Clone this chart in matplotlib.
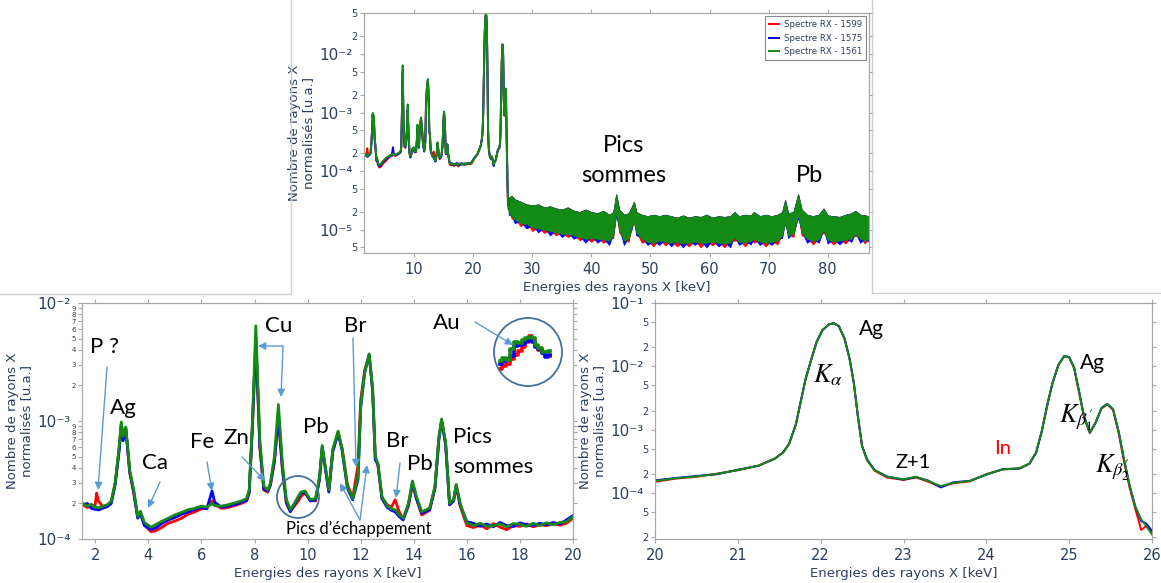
import numpy as np
import matplotlib
matplotlib.use("Agg")
import matplotlib.pyplot as plt
from matplotlib.ticker import FixedLocator, FuncFormatter
from matplotlib.patches import Ellipse, FancyArrowPatch
from matplotlib.lines import Line2D

plt.rcParams["mathtext.fontset"] = "stix"
plt.rcParams["font.family"] = "DejaVu Sans"

W, H = 1161, 583
UNIT = 1e-4  # spectrum values below are in units of 1e-4

# ---- spectrum 1.5 -> 26 keV (three samples) ----
energy = [1.5, 1.7, 1.85, 2.0, 2.05, 2.12, 2.3, 2.45, 2.6, 2.75,
          2.9, 2.98, 3.05, 3.15, 3.3, 3.45, 3.6, 3.7, 3.85, 4.1,
          4.3, 4.5, 4.75, 5.0, 5.25, 5.5, 5.75, 6.0, 6.2, 6.4,
          6.5, 6.75, 7.0, 7.25, 7.5, 7.7, 7.8, 7.92, 8.05, 8.2,
          8.35, 8.5, 8.6, 8.75, 8.9, 9.05, 9.2, 9.35, 9.5, 9.65,
          9.75, 9.9, 10.0, 10.1, 10.3, 10.45, 10.55, 10.65, 10.8, 10.95,
          11.15, 11.3, 11.5, 11.7, 11.9, 12.0, 12.15, 12.32, 12.45, 12.55,
          12.65, 12.8, 13.0, 13.15, 13.3, 13.45, 13.6, 13.8, 13.95, 14.1,
          14.3, 14.6, 14.8, 14.95, 15.05, 15.2, 15.35, 15.5, 15.6, 15.75,
          16.0, 16.25, 16.5, 16.75, 17.0, 17.25, 17.5, 17.75, 18.0, 18.25,
          18.5, 18.75, 19.0, 19.25, 19.5, 19.75, 20.0,
          20.25, 20.5, 20.75, 21.0, 21.25, 21.45, 21.55, 21.62, 21.7, 21.76,
          21.82, 21.88, 21.95, 22.02, 22.1, 22.16, 22.22, 22.29, 22.35, 22.4,
          22.45, 22.5, 22.56, 22.65, 22.8, 23.0, 23.15, 23.3, 23.45, 23.6,
          23.8, 24.0, 24.2, 24.4, 24.52, 24.6, 24.67, 24.74, 24.8, 24.87,
          24.94, 25.0, 25.06, 25.12, 25.18, 25.25, 25.32, 25.39, 25.46, 25.53,
          25.6, 25.66, 25.73, 25.8, 25.87, 25.93, 26.0]

spec_1561 = [2.02, 1.9, 1.97, 1.83, 1.86, 1.84, 1.9, 1.95, 2.1, 3.0,
             6.1, 9.8, 7.4, 8.9, 3.8, 2.6, 1.55, 1.72, 1.38, 1.26,
             1.33, 1.41, 1.5, 1.6, 1.68, 1.77, 1.82, 1.9, 1.86, 2.0,
             1.92, 1.9, 1.95, 2.02, 2.1, 2.2, 2.6, 9.7, 64, 6.9,
             2.8, 2.6, 3.0, 5.0, 13.8, 4.4, 2.16, 1.77, 2.0, 2.3,
             2.5, 2.55, 2.35, 2.16, 2.2, 3.4, 6.2, 4.4, 2.6, 5.8,
             8.2, 5.8, 2.8, 2.2, 3.4, 13.4, 26, 37, 18.6, 5.0,
             4.4, 2.3, 1.9, 1.8, 1.77, 1.6, 1.5, 2.0, 3.1, 2.3,
             1.7, 1.83, 2.8, 7.4, 10.4, 6.6, 2.0, 2.16, 2.9, 2.0,
             1.37, 1.3, 1.36, 1.28, 1.3, 1.34, 1.27, 1.35, 1.33, 1.28,
             1.36, 1.3, 1.37, 1.32, 1.38, 1.4, 1.55,
             1.7, 1.82, 2.0, 2.3, 2.7, 3.5, 4.4, 6.0, 12, 28,
             65, 120, 240, 370, 460, 480, 430, 270, 130, 55,
             16, 5.5, 3.3, 2.3, 1.8, 1.64, 1.8, 1.54, 1.28, 1.45,
             1.54, 1.96, 2.36, 2.44, 2.9, 4.3, 9.5, 26, 55, 105,
             145, 140, 95, 40, 16, 9.0, 13, 22, 25.5, 21,
             9.0, 3.5, 1.3, 0.6, 0.38, 0.30, 0.22]

spec_1575 = [1.95, 2.0, 1.82, 1.78, 1.8, 1.76, 1.83, 1.88, 2.0, 2.9,
             5.6, 9.2, 6.8, 8.6, 3.7, 2.5, 1.5, 1.65, 1.3, 1.2,
             1.25, 1.35, 1.45, 1.52, 1.62, 1.7, 1.78, 1.85, 1.8, 2.55,
             2.05, 1.86, 1.9, 1.95, 2.05, 2.12, 2.5, 9.0, 51, 6.2,
             2.65, 2.55, 2.9, 4.6, 11.0, 4.0, 2.05, 1.7, 1.95, 2.25,
             2.45, 2.5, 2.3, 2.1, 2.15, 3.2, 6.0, 4.2, 2.5, 5.5,
             7.9, 5.6, 2.7, 2.15, 3.2, 13.0, 25.5, 36.5, 18.0, 4.7,
             4.3, 2.2, 1.85, 1.75, 1.7, 1.55, 1.45, 1.95, 3.0, 2.2,
             1.65, 1.78, 2.7, 7.1, 10.0, 6.3, 1.95, 2.1, 2.85, 1.95,
             1.4, 1.36, 1.28, 1.34, 1.27, 1.38, 1.3, 1.27, 1.37, 1.32,
             1.3, 1.36, 1.32, 1.38, 1.34, 1.45, 1.58,
             1.72, 1.85, 1.97, 2.32, 2.68, 3.5, 4.4, 6.0, 12, 28,
             64, 120, 240, 370, 460, 480, 430, 270, 130, 55,
             16, 5.5, 3.4, 2.3, 1.82, 1.62, 1.78, 1.56, 1.22, 1.47,
             1.55, 1.94, 2.38, 2.42, 2.9, 4.3, 9.5, 26, 55, 105,
             145, 140, 95, 40, 16, 9.0, 13, 22, 25.5, 21,
             9.0, 3.5, 1.3, 0.6, 0.36, 0.33, 0.25]

spec_1599 = [1.98, 1.85, 1.9, 1.95, 2.45, 2.1, 1.87, 1.92, 2.05, 2.95,
             5.8, 9.5, 7.0, 8.7, 3.6, 2.45, 1.52, 1.68, 1.32, 1.15,
             1.18, 1.25, 1.36, 1.42, 1.5, 1.62, 1.7, 1.8, 1.82, 2.1,
             1.95, 1.82, 1.85, 1.92, 2.0, 2.1, 2.45, 8.8, 47, 6.0,
             2.6, 2.5, 2.85, 4.5, 10.8, 3.9, 2.0, 1.72, 1.9, 2.1,
             2.3, 2.45, 2.3, 2.12, 2.1, 3.3, 5.9, 4.3, 2.55, 5.6,
             8.0, 5.9, 2.9, 2.25, 4.2, 15.0, 27, 36, 18.5, 4.9,
             4.2, 2.25, 1.95, 1.85, 2.15, 1.7, 1.48, 1.9, 2.9, 2.2,
             1.6, 1.75, 2.75, 7.2, 10.2, 6.4, 1.95, 2.12, 2.8, 1.9,
             1.3, 1.25, 1.32, 1.22, 1.35, 1.26, 1.2, 1.3, 1.28, 1.34,
             1.27, 1.32, 1.3, 1.35, 1.31, 1.36, 1.5,
             1.68, 1.8, 2.02, 2.28, 2.7, 3.5, 4.4, 6.0, 12, 28,
             65, 120, 240, 370, 460, 480, 430, 270, 130, 55,
             16, 5.5, 3.3, 2.25, 1.75, 1.6, 1.76, 1.5, 1.25, 1.42,
             1.52, 1.98, 2.34, 2.45, 2.9, 4.3, 9.5, 26, 55, 105,
             145, 138, 93, 38, 15.5, 8.8, 12.8, 21.5, 25, 20.5,
             8.5, 3.2, 1.2, 0.55, 0.26, 0.30, 0.23]

# ---- noisy high-energy region 26 -> 87 keV (envelopes, units of 1e-5) ----
band_E = [26.0, 26.5, 27, 28, 29, 30, 31, 32, 33, 34, 35, 36, 37, 38, 39, 40, 41, 42, 43, 43.7,
          44.2, 44.7, 45.5, 46.3, 46.8, 47.2, 47.6, 48.5, 49.5, 50.5, 51.5, 52.5, 53.5, 54.5, 55.5,
          56.5, 57.5, 58.5, 59.5, 60.5, 61.5, 62.5, 63.5, 64.2, 65, 66, 67, 67.5, 68.5, 69.5, 70.5,
          71.5, 72.3, 72.8, 73.3, 74.2, 75.0, 75.6, 76.5, 77.5, 78.5, 79.3, 80, 81, 82, 83, 84,
          84.7, 85.5, 86.3, 87]
band_hi = [3.5, 3.8, 3.3, 3.0, 2.7, 2.6, 2.7, 2.4, 2.5, 2.3, 2.2, 2.4, 2.1, 2.0, 2.2, 2.0, 1.9, 2.1, 1.8, 2.0,
           4.0, 2.2, 1.8, 1.9, 2.4, 3.0, 2.0, 1.8, 1.7, 1.8, 1.7, 1.8, 1.7, 1.6, 1.75, 1.6, 1.7, 1.65, 1.8, 1.6,
           1.7, 1.65, 1.7, 2.0, 1.7, 1.8, 1.75, 2.0, 1.7, 1.8, 1.7, 1.8, 2.0, 3.2, 1.9, 2.0, 4.0, 2.2, 1.8, 1.7,
           1.8, 2.3, 1.75, 1.7, 1.65, 1.8, 1.9, 2.1, 1.8, 1.75, 1.7]
band_lo_1561 = [2.0, 1.7, 1.5, 1.3, 1.25, 1.1, 1.05, 1.0, 0.95, 0.9, 0.85, 0.85, 0.8, 0.75, 0.7, 0.72, 0.7, 0.68, 0.65, 0.8,
                2.0, 1.0, 0.65, 0.7, 1.1, 1.4, 0.9, 0.7, 0.62, 0.6, 0.65, 0.62, 0.6, 0.62, 0.58, 0.6, 0.62, 0.6, 0.6, 0.62,
                0.6, 0.58, 0.6, 0.75, 0.62, 0.6, 0.65, 0.7, 0.62, 0.6, 0.62, 0.65, 0.8, 1.4, 0.8, 0.85, 1.8, 0.9, 0.7, 0.65,
                0.68, 1.0, 0.66, 0.64, 0.65, 0.68, 0.7, 0.85, 0.7, 0.66, 0.7]
band_lo_1575 = [1.8, 1.8, 1.3, 1.4, 1.05, 1.2, 0.9, 1.1, 0.8, 1.0, 0.75, 0.9, 0.7, 0.8, 0.6, 0.8, 0.6, 0.72, 0.55, 0.85,
                1.8, 1.1, 0.55, 0.75, 1.0, 1.5, 0.8, 0.75, 0.55, 0.65, 0.55, 0.7, 0.52, 0.68, 0.5, 0.66, 0.55, 0.65, 0.5, 0.68,
                0.52, 0.62, 0.5, 0.8, 0.55, 0.65, 0.56, 0.75, 0.55, 0.65, 0.55, 0.7, 0.72, 1.5, 0.72, 0.9, 1.6, 0.95, 0.6, 0.7,
                0.6, 1.05, 0.58, 0.7, 0.56, 0.72, 0.62, 0.9, 0.6, 0.7, 0.62]
band_lo_1599 = [2.1, 1.55, 1.6, 1.15, 1.35, 0.95, 1.1, 0.88, 1.0, 0.8, 0.9, 0.75, 0.85, 0.66, 0.75, 0.62, 0.75, 0.6, 0.7, 0.72,
                2.1, 0.9, 0.7, 0.62, 1.15, 1.3, 0.95, 0.6, 0.66, 0.52, 0.7, 0.54, 0.65, 0.52, 0.62, 0.52, 0.66, 0.5, 0.65, 0.54,
                0.65, 0.5, 0.65, 0.65, 0.66, 0.52, 0.7, 0.6, 0.66, 0.52, 0.66, 0.56, 0.85, 1.25, 0.85, 0.75, 1.9, 0.8, 0.75, 0.56,
                0.72, 0.9, 0.7, 0.56, 0.7, 0.58, 0.75, 0.78, 0.75, 0.58, 0.75]

# ---- magnified Au L region (inset circle, units of 1e-4) ----
au_E = [9.50, 9.56, 9.59, 9.65, 9.69, 9.74, 9.78, 9.82, 9.86, 9.89, 9.93, 9.97, 10.01, 10.04, 10.08]
au_1561 = [2.16, 2.22, 2.19, 2.38, 2.51, 2.48, 2.54, 2.57, 2.59, 2.57, 2.46, 2.40, 2.33, 2.32, 2.35]
au_1575 = [2.12, 2.16, 2.20, 2.25, 2.44, 2.46, 2.47, 2.52, 2.58, 2.50, 2.42, 2.38, 2.30, 2.24, 2.28]
au_1599 = [2.02, 2.08, 2.12, 2.20, 2.28, 2.35, 2.42, 2.50, 2.62, 2.52, 2.44, 2.36, 2.30, 2.27, 2.25]

series = [("Spectre RX - 1599", "#ff0000", spec_1599, band_lo_1599, au_1599),
          ("Spectre RX - 1575", "#0000ff", spec_1575, band_lo_1575, au_1575),
          ("Spectre RX - 1561", "#138a13", spec_1561, band_lo_1561, au_1561)]

TXT = "#2a3f5f"
SPINE = "#a8a8a8"
ARROW = "#5b9bd5"
RING = "#41719c"
SUP = str.maketrans("-0123456789", "⁻⁰¹²³⁴⁵⁶⁷⁸⁹")


def fpos(x, y):
    return x / W, 1 - y / H


def log_axis(ax, ylim, subs, minor_size):
    ax.set_yscale("log")
    ax.set_ylim(*ylim)
    e0, e1 = int(np.floor(np.log10(ylim[0]))), int(np.ceil(np.log10(ylim[1])))
    majors = [10.0 ** e for e in range(e0, e1 + 1) if ylim[0] <= 10.0 ** e <= ylim[1] * 1.001]
    minors = [m * 10.0 ** e for e in range(e0, e1 + 1) for m in subs
              if ylim[0] * 0.999 <= m * 10.0 ** e <= ylim[1] * 1.001]
    ax.yaxis.set_major_locator(FixedLocator(majors))
    ax.yaxis.set_minor_locator(FixedLocator(minors))
    ax.yaxis.set_major_formatter(FuncFormatter(
        lambda v, p: "10" + str(int(round(np.log10(v)))).translate(SUP)))
    ax.yaxis.set_minor_formatter(FuncFormatter(
        lambda v, p: "%d" % round(v / 10.0 ** np.floor(np.log10(v) + 1e-9))))
    ax.tick_params(axis="both", which="both", direction="out", colors=SPINE,
                   labelcolor=TXT, top=True, right=True, width=0.8)
    ax.tick_params(axis="y", which="major", labelsize=11, length=3, pad=5)
    ax.tick_params(axis="y", which="minor", labelsize=minor_size, length=3, pad=1.5)
    ax.tick_params(axis="x", labelsize=10.5, length=3)
    for s in ax.spines.values():
        s.set_color(SPINE)
        s.set_linewidth(0.9)
    ax.set_xlabel("Energies des rayons X [keV]", color=TXT, fontsize=9.5, labelpad=3)
    ax.set_ylabel("Nombre de rayons X\nnormalisés [u.a.]", color=TXT, fontsize=9.5,
                  linespacing=1.1, labelpad=3)


fig = plt.figure(figsize=(W / 100, H / 100), dpi=100)

# frames of the pasted panels
for xs, ys in [([291, 291], [0, 294]), ([0, 291], [294, 294]),
               ([872, 872], [0, 293]), ([872, 1161], [293, 293])]:
    fig.add_artist(Line2D([x / W for x in xs], [1 - y / H for y in ys],
                          color="#cfcfcf", lw=1.0, transform=fig.transFigure))

# ---------------- top panel: full spectrum ----------------
ax_t = fig.add_axes([364 / W, 1 - 253 / H, 505 / W, 240 / H])
for name, col, spec, lo, _ in series:
    ax_t.plot(energy, [v * UNIT for v in spec], color=col, lw=1.4, label=name)
for name, col, spec, lo, _ in series:
    ax_t.fill_between(band_E, [v * 1e-5 for v in lo], [v * 1e-5 for v in band_hi],
                      color=col, lw=0.6, edgecolor=col)
ax_t.set_xlim(1.5, 87)
ax_t.set_xticks([10, 20, 30, 40, 50, 60, 70, 80])
log_axis(ax_t, (4e-6, 5e-2), (2, 5), 7)
leg = ax_t.legend(loc="upper right", fontsize=6.2, fancybox=False, edgecolor="#888888",
                  framealpha=1, borderaxespad=0.35, handlelength=1.2, handletextpad=0.5,
                  labelspacing=0.55, borderpad=0.45)
leg.get_frame().set_linewidth(0.8)
for t in leg.get_texts():
    t.set_color(TXT)

# ---------------- bottom-left: 1.5 - 20 keV ----------------
ax_l = fig.add_axes([82 / W, 1 - 539 / H, 491 / W, 236 / H])
for name, col, spec, lo, _ in series:
    ax_l.plot(energy, [v * UNIT for v in spec], color=col, lw=2.0)
ax_l.set_xlim(1.5, 20)
ax_l.set_xticks([2, 4, 6, 8, 10, 12, 14, 16, 18, 20])
log_axis(ax_l, (1e-4, 1e-2), (2, 3, 4, 5, 6, 7, 8, 9), 5)

# ---------------- bottom-right: 20 - 26 keV ----------------
ax_r = fig.add_axes([655 / W, 1 - 539 / H, 497 / W, 236 / H])
for name, col, spec, lo, _ in series:
    ax_r.plot(energy, [v * UNIT for v in spec], color=col, lw=1.4)
ax_r.set_xlim(20, 26)
ax_r.set_xticks([20, 21, 22, 23, 24, 25, 26])
log_axis(ax_r, (1.87e-5, 1e-1), (2, 5), 7)

# ---------------- Au inset inside the circle ----------------
ax_au = fig.add_axes([497 / W, 1 - 373 / H, 56 / W, 43 / H])
for name, col, spec, lo, au in series:
    ax_au.plot(au_E, au, color=col, lw=2.6, drawstyle="steps-mid")
ax_au.set_xlim(9.47, 10.12)
ax_au.set_ylim(1.95, 2.72)
ax_au.axis("off")

for (cx, cy, r) in [(528, 352, 34), (298, 497, 21)]:
    fig.add_artist(Ellipse(fpos(cx, cy), 2 * r / W, 2 * r / H, fill=False,
                           edgecolor=RING, lw=1.3, transform=fig.transFigure))

# ---------------- annotations ----------------
ANN = ["Lato", "DejaVu Sans"]
MATH = ["STIXGeneral", "DejaVu Serif"]


def label(x, y, s, size=16, color="black", ha="center", family=ANN):
    fig.text(*fpos(x, y), s, fontsize=size, color=color, ha=ha, va="center",
             family=family)


def arrow(x0, y0, x1, y1):
    fig.add_artist(FancyArrowPatch(fpos(x0, y0), fpos(x1, y1), transform=fig.transFigure,
                                   arrowstyle="-|>", mutation_scale=11, color=ARROW,
                                   lw=1.0, shrinkA=0, shrinkB=0))


label(624, 145, "Pics", 17)
label(624, 176, "sommes", 17)
label(809, 176, "Pb", 17)

label(104, 347, "P ?")
label(123, 408, "Ag")
label(155, 463, "Ca")
label(202, 442, "Fe")
label(236, 438, "Zn")
label(279, 326, "Cu")
label(316, 427, "Pb")
label(355, 326, "Br")
label(397, 441, "Br")
label(420, 464, "Pb")
label(453, 437, "Pics", ha="left")
label(453, 467, "sommes", ha="left")
label(447, 323, "Au")
label(359, 529, "Pics d’échappement", 12)

arrow(107, 367, 98, 490)
arrow(160, 482, 148, 508)
arrow(207, 462, 212, 491)
arrow(242, 457, 265, 481)
arrow(283, 346, 258, 346)
arrow(283, 346, 281, 397)
arrow(353, 338, 356, 467)
arrow(360, 520, 340, 483)
arrow(360, 520, 367, 465)
arrow(400, 463, 396, 498)
arrow(475, 322, 513, 345)

label(871, 329, "Ag", 15)
label(828, 376, r"$K_{\alpha}$", 19, family=MATH)
label(913, 462, "Z+1", 14.5)
label(1003, 449, "In", 14.5, color="#ff0000")
label(1092, 363, "Ag", 15)
label(1076, 418, r"$K_{\beta^{\prime}_{1}}$", 19, family=MATH)
label(1112, 468, r"$K_{\beta^{\prime}_{2}}$", 19, family=MATH)

fig.savefig("out.png", dpi=100)
